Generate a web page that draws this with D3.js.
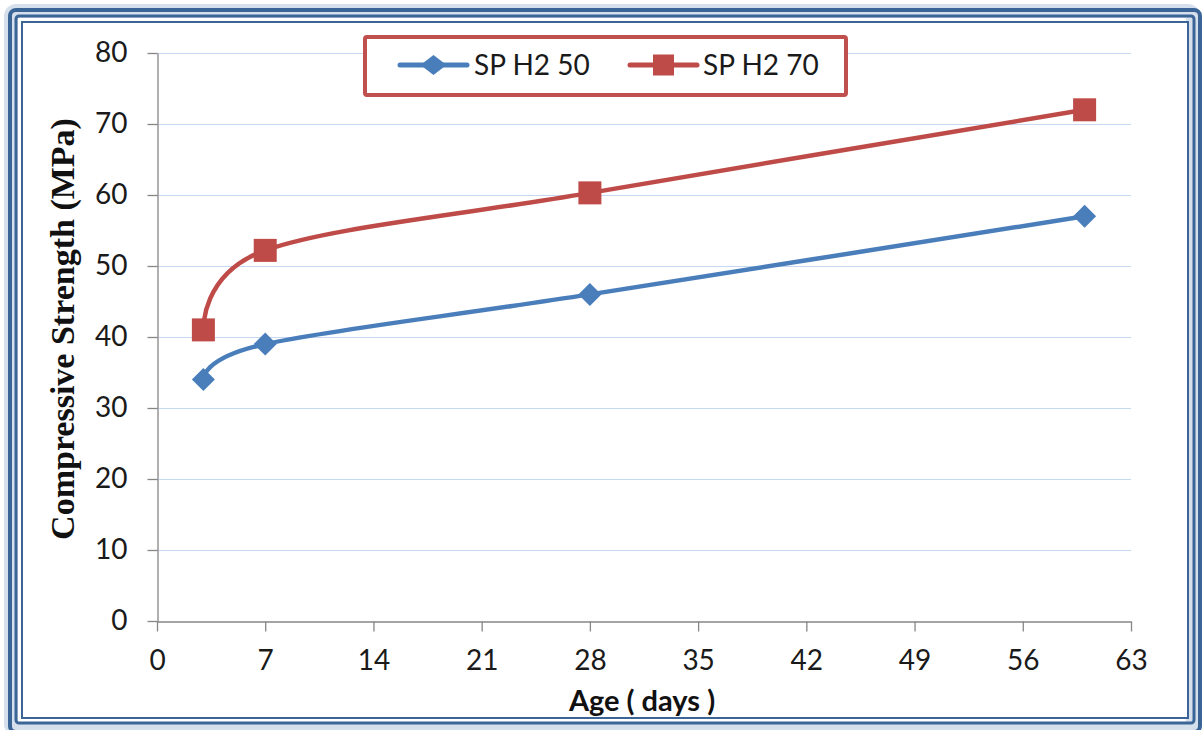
<!DOCTYPE html>
<html>
<head>
<meta charset="utf-8">
<script src="https://cdn.jsdelivr.net/npm/d3@7"></script>
<style>
  html, body { margin: 0; padding: 0; background: #ffffff; }
  svg { display: block; }
</style>
</head>
<body>
<svg id="chart" width="1204" height="730"></svg>
<script>
// Curing age (days) and compressive strength (MPa) for each mix
const ages = [3, 7, 28, 60];
const sph2_50 = [34, 39, 46, 57];
const sph2_70 = [41, 52.2, 60.3, 72];
const seriesNames = ["SP H2 50", "SP H2 70"];
const xTicks = [0, 7, 14, 21, 28, 35, 42, 49, 56, 63];
const yTicks = [0, 10, 20, 30, 40, 50, 60, 70, 80];

const W = 1204, H = 730;
const margin = { left: 157, right: 1204 - 1131, top: 53, bottom: 730 - 621 };
const svg = d3.select("#chart");

const blue = "#4a7ebb", red = "#be4b48";
const axisGray = "#868686", gridBlue = "#c6d9f1";
const frameDark = "#3b6497", frameLight = "#d6e0ed";
const sansFont = "Lato, 'Open Sans', sans-serif";

// Triple-line frame around the chart
svg.append("rect").attr("x", 11).attr("y", 11).attr("width", 1182).attr("height", 718)
  .attr("rx", 5).attr("fill", "none").attr("stroke", frameLight).attr("stroke-width", 14);
svg.append("rect").attr("x", 10).attr("y", 10).attr("width", 1190).attr("height", 722)
  .attr("rx", 6).attr("fill", "none").attr("stroke", frameDark).attr("stroke-width", 4);
svg.append("rect").attr("x", 16).attr("y", 16).attr("width", 1178).attr("height", 707)
  .attr("rx", 3).attr("fill", "none").attr("stroke", frameDark).attr("stroke-width", 3);
svg.append("rect").attr("x", 22).attr("y", 22).attr("width", 1166).attr("height", 696)
  .attr("fill", "#ffffff").attr("stroke", frameDark).attr("stroke-width", 2);

const x = d3.scaleLinear().domain([0, 63]).range([margin.left, W - margin.right]);
const y = d3.scaleLinear().domain([0, 80]).range([H - margin.bottom, margin.top]);

// Horizontal gridlines
svg.append("g")
  .selectAll("line")
  .data(yTicks.filter(d => d > 0))
  .join("line")
  .attr("x1", x(0)).attr("x2", x(63))
  .attr("y1", d => Math.round(y(d)) + 0.5).attr("y2", d => Math.round(y(d)) + 0.5)
  .attr("stroke", gridBlue).attr("stroke-width", 1);

// Axes
const xAxis = svg.append("g")
  .attr("transform", `translate(0,${Math.round(y(0)) + 0.5})`)
  .call(d3.axisBottom(x).tickValues(xTicks).tickSize(10).tickSizeOuter(0).tickPadding(30));
const yAxis = svg.append("g")
  .attr("transform", `translate(${Math.round(x(0)) + 0.5},0)`)
  .call(d3.axisLeft(y).tickValues(yTicks).tickSize(10).tickSizeOuter(0).tickPadding(20));

[xAxis, yAxis].forEach(g => {
  g.select(".domain").attr("stroke", axisGray).attr("stroke-width", 1.3);
  g.selectAll(".tick line").attr("stroke", axisGray).attr("stroke-width", 1.3);
  g.selectAll(".tick text").attr("fill", "#1a1a1a")
    .style("font-family", sansFont).style("font-size", "28px");
});
xAxis.selectAll(".tick text").attr("dy", "0.32em");

// Axis titles
svg.append("text")
  .attr("x", 642).attr("y", 711)
  .attr("text-anchor", "middle")
  .style("font-family", sansFont).style("font-weight", "bold").style("font-size", "29px")
  .attr("fill", "#111")
  .text("Age ( days )");

svg.append("text")
  .attr("transform", "translate(74,329) rotate(-90)")
  .attr("text-anchor", "middle")
  .style("font-family", "'Liberation Serif', 'Times New Roman', serif")
  .style("font-weight", "bold").style("font-size", "34px")
  .attr("fill", "#111")
  .text("Compressive Strength (MPa)");

// Smoothed series lines
const line = d3.line()
  .x(d => x(d[0])).y(d => y(d[1]))
  .curve(d3.curveCardinal.tension(0));

const series = [
  { name: seriesNames[0], values: sph2_50, color: blue, shape: "diamond" },
  { name: seriesNames[1], values: sph2_70, color: red, shape: "square" }
];

const diamond = s => `M0,${-s}L${s},0L0,${s}L${-s},0Z`;

series.forEach(s => {
  const pts = ages.map((a, i) => [a, s.values[i]]);
  svg.append("path")
    .datum(pts)
    .attr("d", line)
    .attr("fill", "none")
    .attr("stroke", s.color)
    .attr("stroke-width", 4.5)
    .attr("stroke-linejoin", "round");

  const g = svg.append("g");
  if (s.shape === "diamond") {
    g.selectAll("path").data(pts).join("path")
      .attr("transform", d => `translate(${x(d[0])},${y(d[1])})`)
      .attr("d", diamond(11.5))
      .attr("fill", s.color);
  } else {
    g.selectAll("rect").data(pts).join("rect")
      .attr("x", d => x(d[0]) - 11.5).attr("y", d => y(d[1]) - 11.5)
      .attr("width", 23).attr("height", 23)
      .attr("fill", s.color);
  }
});

// Legend
const legend = svg.append("g");
legend.append("rect")
  .attr("x", 365).attr("y", 37).attr("width", 481).attr("height", 58)
  .attr("rx", 2)
  .attr("fill", "#ffffff").attr("stroke", "#c0504d").attr("stroke-width", 4);

const legendItems = [
  { s: series[0], x0: 400, x1: 467, tx: 474 },
  { s: series[1], x0: 630, x1: 697, tx: 703 }
];
legendItems.forEach(it => {
  const cy = 65;
  legend.append("line")
    .attr("x1", it.x0).attr("x2", it.x1).attr("y1", cy).attr("y2", cy)
    .attr("stroke", it.s.color).attr("stroke-width", 5).attr("stroke-linecap", "round");
  const cx = (it.x0 + it.x1) / 2;
  if (it.s.shape === "diamond") {
    legend.append("path")
      .attr("transform", `translate(${cx},${cy})`)
      .attr("d", `M0,-10L13,0L0,10L-13,0Z`)
      .attr("fill", it.s.color);
  } else {
    legend.append("rect")
      .attr("x", cx - 10.5).attr("y", cy - 10.5).attr("width", 21).attr("height", 21)
      .attr("fill", it.s.color);
  }
  legend.append("text")
    .attr("x", it.tx).attr("y", cy + 10)
    .style("font-family", sansFont).style("font-size", "28px")
    .attr("fill", "#1a1a1a")
    .text(it.s.name);
});
</script>
</body>
</html>
